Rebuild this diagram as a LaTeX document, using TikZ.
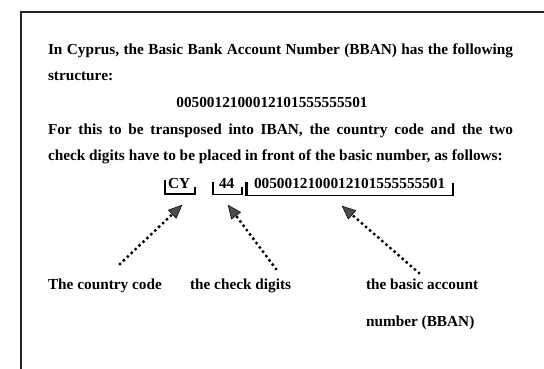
\documentclass[tikz,border=0pt]{standalone}
\usepackage{fontspec}
\setmainfont{Liberation Serif}
\usetikzlibrary{arrows.meta}
\tikzset{
  txt/.style={anchor=base west, inner sep=0pt, outer sep=0pt, font=\fontsize{15.3}{18}\selectfont\bfseries},
  frameline/.style={line width=1.4pt, black!85},
  bracket/.style={line width=1.1pt, black},
  dotarrow/.style={line width=3.4pt, black, line cap=round, dash pattern=on 0pt off 5.4pt,
    -{Triangle[length=14pt,width=12pt,fill=black!70,line width=0.5pt,round,sep=0pt]}},
}
\begin{document}
\begin{tikzpicture}[x=1pt,y=-1pt]
\useasboundingbox (0,0) rectangle (544,369);
\fill[white] (0,0) rectangle (544,369);
% frame
\draw[frameline] (21,369) -- (21,12) -- (544,12);
% text
\node[txt] (l1) at (48,55) {\makebox[465pt][s]{In Cyprus, the Basic Bank Account Number (BBAN) has the following}};
\node[txt] (l2) at (48,81) {structure:};
\node[txt,anchor=base] (l3) at (272,107) {0050012100012101555555501};
\node[txt] (l4) at (48,134) {\makebox[465pt][s]{For this to be transposed into IBAN, the country code and the two}};
\node[txt] (l5) at (48,160) {check digits have to be placed in front of the basic number, as follows:};
% IBAN parts
\node[txt] (cy) at (168,188) {CY};
\node[txt] (cd) at (219,188) {44};
\node[txt] (bban) at (254,188) {0050012100012101555555501};
% brackets
\draw[bracket] (165,180) -- (165,194) -- (195,194) -- (195,187);
\draw[bracket] (213,182) -- (213,194.5) -- (242,194.5) -- (242,187);
\draw[line width=2.2pt] (246.5,182) -- (246.5,195.5);
\draw[bracket] (246,195.5) -- (453,195.5) -- (453,183);
% labels
\node[txt] (lab1) at (48,289) {The country code};
\node[txt] (lab2) at (190,289) {the check digits};
\node[txt] (lab3) at (366,289) {the basic account};
\node[txt] (lab4) at (366,326) {number (BBAN)};
% arrow endpoints
\coordinate (t1) at (120,264);
\coordinate (h1) at (182,205);
\coordinate (t2) at (276,269);
\coordinate (h2) at (228,205);
\coordinate (t3) at (419,273);
\coordinate (h3) at (342,206);
\draw[dotarrow] (t1) -- (h1);
\draw[dotarrow] (t2) -- (h2);
\draw[dotarrow] (t3) -- (h3);
\end{tikzpicture}
\end{document}
